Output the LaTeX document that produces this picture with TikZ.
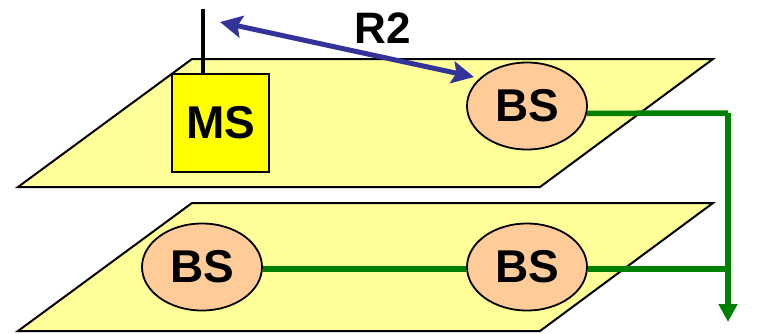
\documentclass[tikz,border=0pt]{standalone}
\usepackage{fontspec}
\setmainfont{Liberation Sans}
\usetikzlibrary{arrows.meta,shapes.geometric,calc}
\definecolor{planefill}{HTML}{FFFF99}
\definecolor{bsfill}{HTML}{FFCC99}
\definecolor{msfill}{HTML}{FFFF00}
\definecolor{linkblue}{HTML}{333399}
\definecolor{wiregreen}{HTML}{008000}
\tikzset{
  plane/.style={draw=black, fill=planefill, line width=2pt, line join=miter},
  bs/.style={ellipse, draw=black, fill=bsfill, line width=1.8pt, minimum width=120pt, minimum height=87pt, inner sep=0pt, font=\bfseries\fontsize{46}{54}\selectfont},
  ms/.style={rectangle, draw=black, fill=msfill, line width=1.8pt, minimum width=97pt, minimum height=98pt, inner sep=0pt, font=\bfseries\fontsize{46}{54}\selectfont},
  lbl/.style={font=\bfseries\fontsize{44}{50}\selectfont, inner sep=0pt},
  wire/.style={draw=wiregreen, line width=5.5pt},
  radio/.style={draw=linkblue, line width=5pt, {Stealth[length=22pt,width=22pt,inset=4pt]}-{Stealth[length=22pt,width=22pt,inset=4pt]}},
}
\begin{document}
\begin{tikzpicture}[x=1pt,y=-1pt]
\useasboundingbox (0,0) rectangle (778,333);
% planes
\draw[plane] (192,59) -- (713,59) -- (540,187) -- (18,187) -- cycle;
\draw[plane] (192,203) -- (713,203) -- (540,331) -- (18,331) -- cycle;
% nodes
\node[ms] (ms) at (220.5,123) {MS};
\node[bs] (bsT) at (527,106) {BS};
\node[bs] (bsL) at (202,267) {BS};
\node[bs] (bsR) at (527,267) {BS};
\node[lbl] (r2) at (383,28) {R2};
% antenna
\coordinate (ant) at (203,9);
\draw[line width=4pt] (ms.north -| ant) -- (ant);
% radio link
\coordinate (rA) at (220,22);
\coordinate (rB) at (474,77);
\draw[radio] (rA) -- (rB);
% wires
\coordinate (cTop) at (728,113);
\coordinate (cBot) at (728,269);
\coordinate (cEnd) at (728,322);
\draw[wire] (bsT.-7) -- (cTop);
\draw[wire, -{Triangle[length=18pt,width=18pt]}] (cTop) -- (cEnd);
\draw[wire] (bsL.east |- cBot) -- (bsR.west |- cBot);
\draw[wire] (bsR.east |- cBot) -- (cBot);
\end{tikzpicture}
\end{document}
